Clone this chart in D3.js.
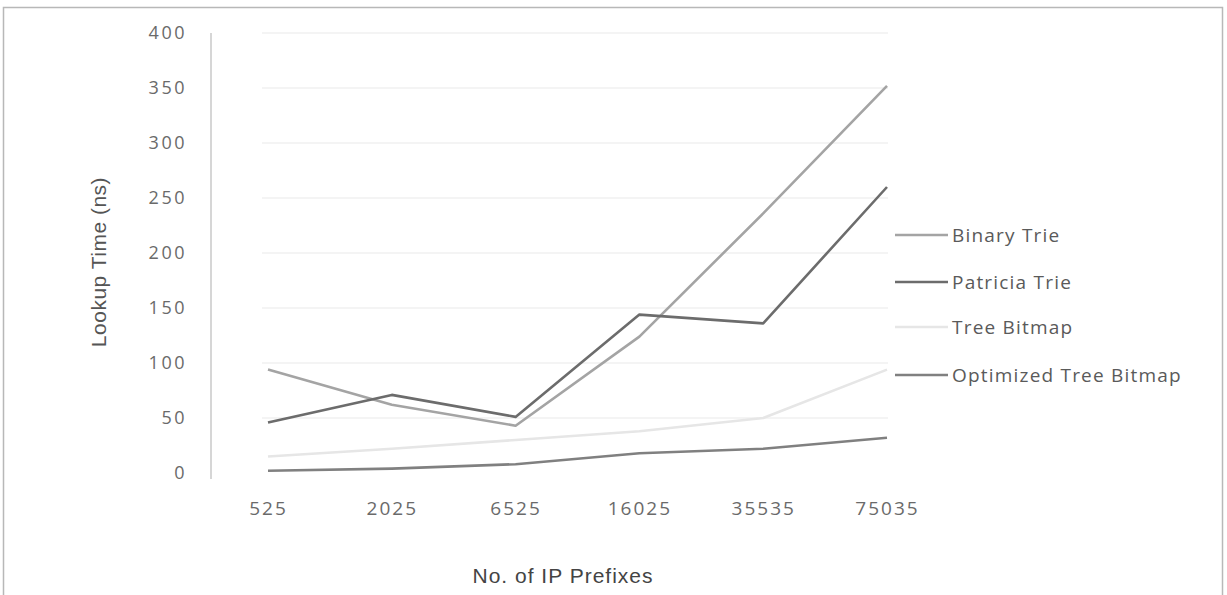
<!DOCTYPE html>
<html>
<head>
<meta charset="utf-8">
<script src="https://cdn.jsdelivr.net/npm/d3@7"></script>
<style>
  html, body { margin: 0; padding: 0; background: #fff; }
  svg { display: block; }
</style>
</head>
<body>
<svg id="chart" width="1227" height="595"></svg>
<script>
// Lookup time per scheme for each prefix-table size
const prefixCounts = ["525", "2025", "6525", "16025", "35535", "75035"];
const yTicks = [0, 50, 100, 150, 200, 250, 300, 350, 400];

const binaryTrie    = [94, 62, 43, 124, 236, 352];
const patriciaTrie  = [46, 71, 51, 144, 136, 260];
const treeBitmap    = [15, 22, 30, 38, 50, 94];
const optTreeBitmap = [2, 4, 8, 18, 22, 32];

const seriesNames  = ["Binary Trie", "Patricia Trie", "Tree Bitmap", "Optimized Tree Bitmap"];
const seriesValues = [binaryTrie, patriciaTrie, treeBitmap, optTreeBitmap];
const seriesColors = ["#a4a4a4", "#6c6c6c", "#e6e6e6", "#808080"];

const svg = d3.select("#chart");

// frame around the chart area
svg.append("rect")
  .attr("x", 3.5).attr("y", 7.5)
  .attr("width", 1219).attr("height", 600)
  .attr("fill", "none").attr("stroke", "#b8b8b8").attr("stroke-width", 1.5);

const x = d3.scalePoint().domain(prefixCounts).range([268, 887]);
const y = d3.scaleLinear().domain([0, 400]).range([473, 33]);

// horizontal gridlines
svg.append("g")
  .selectAll("line")
  .data(yTicks.filter(d => d > 0))
  .join("line")
  .attr("x1", 262).attr("x2", 888)
  .attr("y1", d => y(d)).attr("y2", d => y(d))
  .attr("stroke", "#f0f0f0").attr("stroke-width", 1.5);

// vertical value axis
const yAxis = svg.append("g")
  .attr("transform", "translate(211,0)")
  .call(d3.axisLeft(y).tickValues(yTicks).tickSize(0).tickPadding(24));
yAxis.select(".domain").attr("stroke", "#c8c8c8").attr("stroke-width", 1.5)
  .attr("d", `M0,${y(400)}V${y(0) + 6}`);
yAxis.selectAll("text")
  .attr("fill", "#6a6a6a")
  .style("font-family", "'Open Sans', 'Liberation Sans', sans-serif")
  .style("font-size", "18px")
  .style("letter-spacing", "2.5px");

// category axis labels
const xAxis = svg.append("g")
  .attr("transform", `translate(0,${y(0) + 28})`)
  .call(d3.axisBottom(x).tickSize(0).tickPadding(0));
xAxis.select(".domain").remove();
xAxis.selectAll("text")
  .attr("fill", "#6a6a6a")
  .attr("dy", "0.71em")
  .style("font-family", "'Open Sans', 'Liberation Sans', sans-serif")
  .style("font-size", "19px")
  .style("letter-spacing", "2px");

// axis titles
svg.append("text")
  .attr("transform", "translate(106,262) rotate(-90)")
  .attr("text-anchor", "middle")
  .attr("fill", "#555")
  .style("font-family", "'Liberation Sans', Arial, sans-serif")
  .style("font-size", "21px")
  .style("letter-spacing", "0.5px")
  .text("Lookup Time (ns)");

svg.append("text")
  .attr("x", 563).attr("y", 583)
  .attr("text-anchor", "middle")
  .attr("fill", "#444")
  .style("font-family", "'Liberation Sans', Arial, sans-serif")
  .style("font-size", "21px")
  .style("letter-spacing", "1px")
  .text("No. of IP Prefixes");

// series lines
const line = d3.line()
  .x((d, i) => x(prefixCounts[i]))
  .y(d => y(d));

svg.append("g")
  .selectAll("path")
  .data(seriesValues)
  .join("path")
  .attr("d", d => line(d))
  .attr("fill", "none")
  .attr("stroke", (d, i) => seriesColors[i])
  .attr("stroke-width", 2.6)
  .attr("stroke-linejoin", "round");

// legend
const legendY = [235, 282, 327, 375];
const legend = svg.append("g")
  .selectAll("g")
  .data(seriesNames)
  .join("g")
  .attr("transform", (d, i) => `translate(0,${legendY[i]})`);

legend.append("line")
  .attr("x1", 895).attr("x2", 948)
  .attr("y1", 0).attr("y2", 0)
  .attr("stroke", (d, i) => seriesColors[i])
  .attr("stroke-width", 2.6);

legend.append("text")
  .attr("x", 952).attr("y", 0)
  .attr("dy", "0.35em")
  .attr("fill", "#5a5a5a")
  .style("font-family", "'Open Sans', 'Liberation Sans', sans-serif")
  .style("font-size", "19px")
  .style("letter-spacing", "1.2px")
  .text(d => d);
</script>
</body>
</html>
